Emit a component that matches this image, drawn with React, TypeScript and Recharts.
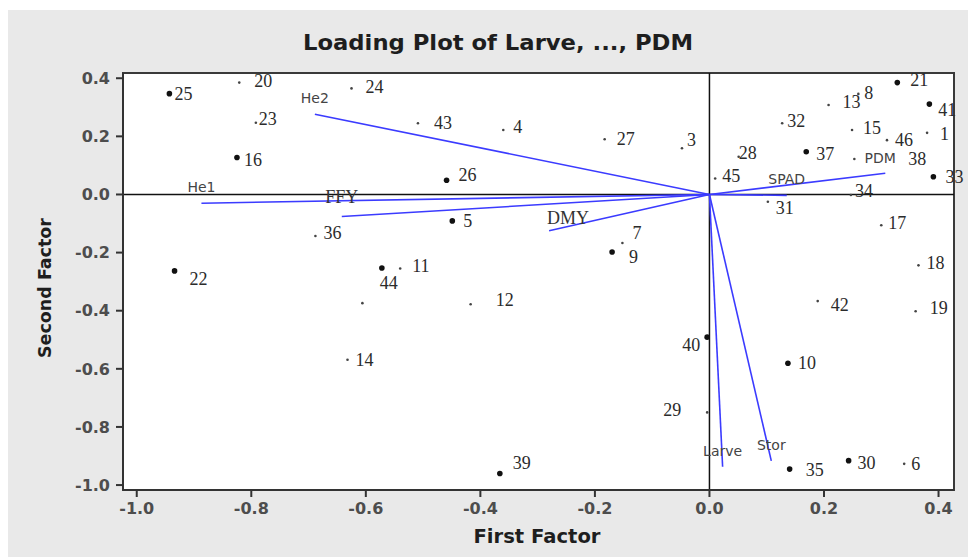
import {
  CartesianGrid,
  ReferenceArea,
  ReferenceLine,
  Scatter,
  ScatterChart,
  XAxis,
  YAxis,
} from "recharts";

const xTicks = [-1.0, -0.8, -0.6, -0.4, -0.2, 0.0, 0.2, 0.4];
const yTicks = [0.4, 0.2, 0.0, -0.2, -0.4, -0.6, -0.8, -1.0];
const xDomain: [number, number] = [-1.024, 0.427];
const yDomain: [number, number] = [-1.017, 0.418];

// observations drawn with the heavy dot
const heavyObs = [
  { id: "25", f1: -0.943, f2: 0.347 },
  { id: "16", f1: -0.825, f2: 0.127 },
  { id: "26", f1: -0.459, f2: 0.049 },
  { id: "5", f1: -0.449, f2: -0.091 },
  { id: "22", f1: -0.934, f2: -0.263 },
  { id: "44", f1: -0.572, f2: -0.253 },
  { id: "9", f1: -0.17, f2: -0.198 },
  { id: "21", f1: 0.328, f2: 0.385 },
  { id: "41", f1: 0.384, f2: 0.311 },
  { id: "37", f1: 0.169, f2: 0.147 },
  { id: "33", f1: 0.391, f2: 0.061 },
  { id: "40", f1: -0.004, f2: -0.491 },
  { id: "10", f1: 0.137, f2: -0.581 },
  { id: "35", f1: 0.14, f2: -0.945 },
  { id: "30", f1: 0.243, f2: -0.916 },
  { id: "39", f1: -0.366, f2: -0.96 },
];

// observations drawn with the light dot
const lightObs = [
  { id: "20", f1: -0.821, f2: 0.385 },
  { id: "23", f1: -0.792, f2: 0.247 },
  { id: "24", f1: -0.625, f2: 0.365 },
  { id: "36", f1: -0.688, f2: -0.143 },
  { id: "43", f1: -0.509, f2: 0.245 },
  { id: "4", f1: -0.36, f2: 0.222 },
  { id: "27", f1: -0.183, f2: 0.19 },
  { id: "3", f1: -0.048, f2: 0.159 },
  { id: "13", f1: 0.208, f2: 0.308 },
  { id: "8", f1: 0.26, f2: 0.346 },
  { id: "32", f1: 0.127, f2: 0.245 },
  { id: "15", f1: 0.249, f2: 0.222 },
  { id: "1", f1: 0.38, f2: 0.212 },
  { id: "46", f1: 0.31, f2: 0.187 },
  { id: "28", f1: 0.051, f2: 0.13 },
  { id: "38", f1: 0.253, f2: 0.122 },
  { id: "45", f1: 0.01, f2: 0.055 },
  { id: "34", f1: 0.247, f2: -0.002 },
  { id: "31", f1: 0.102, f2: -0.025 },
  { id: "17", f1: 0.3, f2: -0.106 },
  { id: "11", f1: -0.54, f2: -0.255 },
  { id: "2", f1: -0.606, f2: -0.374 },
  { id: "14", f1: -0.632, f2: -0.569 },
  { id: "7", f1: -0.152, f2: -0.167 },
  { id: "12", f1: -0.417, f2: -0.378 },
  { id: "18", f1: 0.365, f2: -0.244 },
  { id: "42", f1: 0.189, f2: -0.367 },
  { id: "19", f1: 0.36, f2: -0.402 },
  { id: "29", f1: -0.004, f2: -0.75 },
  { id: "6", f1: 0.34, f2: -0.927 },
];

const loadings = [
  { name: "He1", f1: -0.887, f2: -0.03 },
  { name: "He2", f1: -0.689, f2: 0.276 },
  { name: "FFY", f1: -0.642, f2: -0.076 },
  { name: "DMY", f1: -0.28, f2: -0.125 },
  { name: "SPAD", f1: 0.135, f2: -0.003 },
  { name: "PDM", f1: 0.307, f2: 0.073 },
  { name: "Larve", f1: 0.023, f2: -0.937 },
  { name: "Stor", f1: 0.108, f2: -0.917 },
];

// label placement tweaks, px from the dot (dx to text start, dy to text middle)
const labelShift: Record<string, [number, number]> = {
  "25": [5, 0], "16": [7, 2], "26": [12, -5], "5": [11, 0], "22": [15, 8],
  "44": [-2, 15], "9": [17, 5], "21": [13, -3], "41": [9, 6], "37": [10, 2],
  "33": [12, 0], "40": [-25, 8], "10": [10, 0], "35": [16, 1], "30": [9, 2],
  "39": [13, -10], "20": [15, -2], "23": [3, -4], "24": [14, -1], "36": [8, -3],
  "43": [16, 0], "4": [10, -3], "27": [12, 0], "3": [5, -8], "13": [14, -3],
  "8": [6, -1], "32": [5, -2], "15": [11, -2], "1": [13, 1], "46": [8, 0],
  "28": [0, -4], "38": [54, 0], "45": [7, -2], "34": [4, -4], "31": [8, 6],
  "17": [7, -2], "11": [12, -3], "14": [8, 0], "7": [10, -10], "12": [25, -4],
  "18": [8, -2], "42": [13, 4], "19": [14, -3], "29": [-44, -2], "6": [7, 0],
};
const unlabelled = new Set(["2"]);
const serifLoadings = new Set(["FFY", "DMY"]);
const loadingShift: Record<string, [number, number]> = { DMY: [19, -13], PDM: [-5, -15], FFY: [0, -20] };

const obsShape = (r: number, fill: string) => (props: any) => {
  const { cx, cy, payload } = props;
  const [dx, dy] = labelShift[payload.id] ?? [10, 0];
  return (
    <g>
      <circle cx={cx} cy={cy} r={r} fill={fill} />
      {!unlabelled.has(payload.id) && (
        <text
          x={cx + dx}
          y={cy + dy}
          dominantBaseline="central"
          fontFamily="'Liberation Serif', serif"
          fontSize={18}
          fill="#2b2b2b"
        >
          {payload.id}
        </text>
      )}
    </g>
  );
};

const loadingLabel = (props: any) => {
  const { cx, cy, payload } = props;
  const [dx, dy] = loadingShift[payload.name] ?? [0, -16];
  const serif = serifLoadings.has(payload.name);
  return (
    <text
      x={cx + dx}
      y={cy + dy}
      textAnchor="middle"
      dominantBaseline="central"
      fontFamily={serif ? "'Liberation Serif', serif" : "'DejaVu Sans', sans-serif"}
      fontSize={serif ? 18 : 14}
      fill={serif ? "#333" : "#444"}
    >
      {payload.name}
    </text>
  );
};

const tickStyle = { fill: "#4d4d4d", fontSize: 16, fontWeight: 700, fontFamily: "'DejaVu Sans', sans-serif" };
const fmt = (v: number) => v.toFixed(1);

export default function App() {
  return (
    <div style={{ position: "relative", width: 968, height: 547, marginTop: 2, background: "#e9e9e9" }}>
      <ScatterChart width={968} height={547} margin={{ top: 63, right: 22, bottom: 37, left: 55 }}>
        <CartesianGrid fill="#ffffff" fillOpacity={1} horizontal={false} vertical={false} />
        <XAxis
          type="number"
          dataKey="f1"
          domain={xDomain}
          ticks={xTicks}
          tickFormatter={fmt}
          height={30}
          tickSize={7}
          tickMargin={6}
          tick={tickStyle}
          stroke="#333"
          strokeWidth={2}
        />
        <YAxis
          type="number"
          dataKey="f2"
          domain={yDomain}
          ticks={yTicks}
          tickFormatter={fmt}
          width={60}
          tickSize={7}
          tickMargin={6}
          tick={tickStyle}
          stroke="#333"
          strokeWidth={2}
        />
        <ReferenceArea
          x1={xDomain[0]}
          x2={xDomain[1]}
          y1={yDomain[0]}
          y2={yDomain[1]}
          fill="none"
          stroke="#3a3a3a"
          strokeWidth={2}
          ifOverflow="visible"
        />
        <ReferenceLine x={0} stroke="#111" strokeWidth={1.5} />
        <ReferenceLine y={0} stroke="#111" strokeWidth={1.5} />
        {loadings.map((l) => (
          <ReferenceLine
            key={l.name}
            segment={[{ x: 0, y: 0 }, { x: l.f1, y: l.f2 }]}
            stroke="#3b3bff"
            strokeWidth={1.6}
            ifOverflow="visible"
          />
        ))}
        <Scatter data={loadings} shape={loadingLabel} isAnimationActive={false} />
        <Scatter data={lightObs} shape={obsShape(1.3, "#444")} isAnimationActive={false} />
        <Scatter data={heavyObs} shape={obsShape(2.8, "#111")} isAnimationActive={false} />
      </ScatterChart>
      <svg width={968} height={547} style={{ position: "absolute", left: 0, top: 0, pointerEvents: "none" }}>
        <text
          x={490}
          y={40}
          textAnchor="middle"
          fontFamily="'DejaVu Sans', sans-serif"
          fontWeight={700}
          fontSize={22}
          fill="#1e1e1e"
          textLength={390}
          lengthAdjust="spacingAndGlyphs"
        >
          Loading Plot of Larve, ..., PDM
        </text>
        <text
          x={529}
          y={533}
          textAnchor="middle"
          fontFamily="'DejaVu Sans', sans-serif"
          fontWeight={700}
          fontSize={19}
          fill="#1e1e1e"
          textLength={127}
          lengthAdjust="spacingAndGlyphs"
        >
          First Factor
        </text>
        <text
          x={36}
          y={278}
          transform="rotate(-90 36 278)"
          textAnchor="middle"
          dominantBaseline="central"
          fontFamily="'DejaVu Sans', sans-serif"
          fontWeight={700}
          fontSize={18}
          fill="#1e1e1e"
          textLength={140}
          lengthAdjust="spacingAndGlyphs"
        >
          Second Factor
        </text>
      </svg>
    </div>
  );
}
